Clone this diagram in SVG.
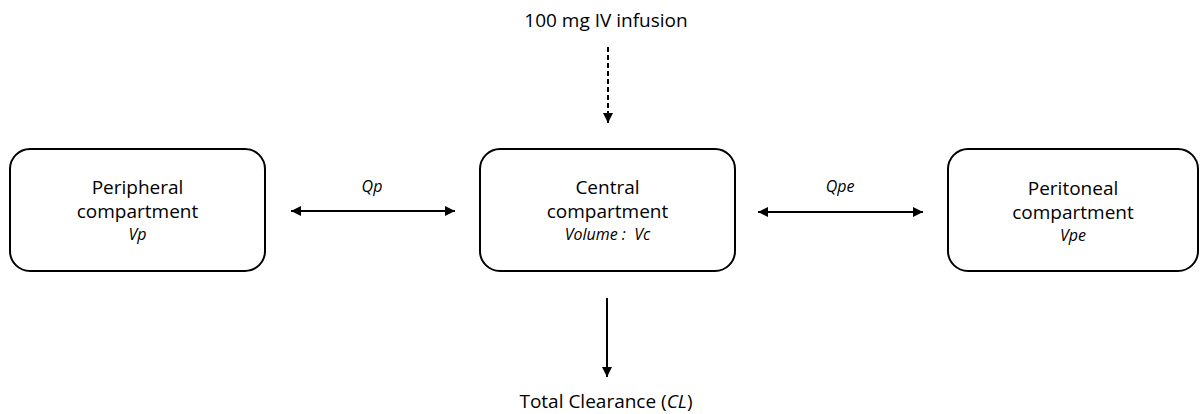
<svg xmlns="http://www.w3.org/2000/svg" width="1201" height="414" viewBox="0 0 1201 414">
<style>
.box{fill:#fff;stroke:#000;stroke-width:2}
.t{font-family:"Open Sans","Liberation Sans",sans-serif;font-size:19px;fill:#000;text-anchor:middle}
.i{font-family:"Open Sans","Liberation Sans",sans-serif;font-size:16px;font-style:italic;fill:#000;text-anchor:middle}
.c{stroke:#000;stroke-width:2;fill:none}
</style>
<defs>
<marker id="ah" viewBox="0 0 10 10" refX="10" refY="5" markerWidth="5" markerHeight="5" orient="auto-start-reverse" markerUnits="strokeWidth">
<path d="M0,0 L10,5 L0,10 z" fill="#000"/>
</marker>
</defs>
<rect width="1201" height="414" fill="#fff"/>
<g id="infusion">
<text class="t" x="606" y="27">100 mg IV infusion</text>
</g>
<g id="peripheral">
<rect class="box" x="10" y="149" width="255" height="122" rx="20"/>
<text class="t" x="137.5" y="194">Peripheral</text>
<text class="t" x="137.5" y="218">compartment</text>
<text class="i" x="137.5" y="240">Vp</text>
</g>
<g id="central">
<rect class="box" x="480" y="149" width="255" height="122" rx="20"/>
<text class="t" x="607.5" y="194">Central</text>
<text class="t" x="607.5" y="218">compartment</text>
<text class="i" x="607.5" y="240">Volume :&#160; Vc</text>
</g>
<g id="peritoneal">
<rect class="box" x="948" y="149" width="250" height="122" rx="20"/>
<text class="t" x="1073" y="195">Peritoneal</text>
<text class="t" x="1073" y="219">compartment</text>
<text class="i" x="1073" y="241">Vpe</text>
</g>
<g id="clearance">
<text class="t" x="606" y="408">Total Clearance (<tspan font-style="italic">CL</tspan>)</text>
</g>
<g id="connectors">
<line class="c" x1="608" y1="47" x2="608" y2="123" stroke-dasharray="5,3" marker-end="url(#ah)"/>
<line class="c" x1="291" y1="211" x2="455" y2="211" marker-start="url(#ah)" marker-end="url(#ah)"/>
<text class="i" x="372" y="192">Qp</text>
<line class="c" x1="758" y1="212" x2="923" y2="212" marker-start="url(#ah)" marker-end="url(#ah)"/>
<text class="i" x="840" y="192">Qpe</text>
<line class="c" x1="607" y1="298" x2="607" y2="377" marker-end="url(#ah)"/>
</g>
</svg>
